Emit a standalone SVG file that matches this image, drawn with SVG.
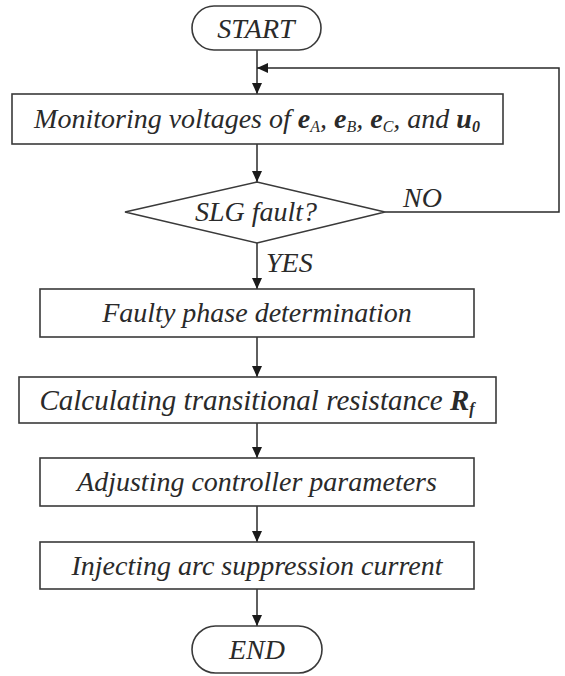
<svg xmlns="http://www.w3.org/2000/svg" width="565" height="676" viewBox="0 0 565 676">
<style>
.n{fill:#fff;stroke:#3a3a3a;stroke-width:1.6}
.t{font-family:'Liberation Serif','DejaVu Serif',serif;font-style:italic;font-size:28px;fill:#2a2a2a;text-anchor:middle}
.l{text-anchor:start}
.g{font-size:29px}
.b{font-weight:bold}
.s{font-size:16px}
.c{fill:none;stroke:#2a2a2a;stroke-width:1.5}
</style>
<defs>
<marker id="a" markerWidth="12" markerHeight="12" refX="11" refY="6" orient="auto" markerUnits="userSpaceOnUse">
<path d="M0,1 L11,6 L0,11 Z" fill="#1a1a1a"/>
</marker>
</defs>
<g id="connectors">
<line class="c" x1="257" y1="50" x2="257" y2="94" marker-end="url(#a)"/>
<polyline class="c" points="385,212 559,212 559,68 257,68" marker-end="url(#a)"/>
<line class="c" x1="257" y1="144" x2="257" y2="182" marker-end="url(#a)"/>
<line class="c" x1="257" y1="243" x2="257" y2="289" marker-end="url(#a)"/>
<line class="c" x1="257" y1="337" x2="257" y2="377" marker-end="url(#a)"/>
<line class="c" x1="257" y1="423" x2="257" y2="458" marker-end="url(#a)"/>
<line class="c" x1="257" y1="506" x2="257" y2="542" marker-end="url(#a)"/>
<line class="c" x1="257" y1="589" x2="257" y2="626" marker-end="url(#a)"/>
<text class="t l" x="403" y="207">NO</text>
<text class="t l" x="266" y="272">YES</text>
</g>
<g id="start">
<rect class="n" x="192" y="6" width="129" height="44" rx="22"/>
<text class="t" x="256" y="38">START</text>
</g>
<g id="monitor">
<rect class="n" x="12" y="94" width="491" height="50"/>
<text class="t" x="257" y="128">Monitoring voltages of <tspan class="b">e</tspan><tspan class="s" dy="4">A</tspan><tspan dy="-4">, </tspan><tspan class="b">e</tspan><tspan class="s" dy="4">B</tspan><tspan dy="-4">, </tspan><tspan class="b">e</tspan><tspan class="s" dy="4">C</tspan><tspan dy="-4">, and </tspan><tspan class="b">u</tspan><tspan class="s b" dy="4">0</tspan></text>
</g>
<g id="slg">
<polygon class="n" points="125,212 257,182 385,212 257,243"/>
<text class="t" x="256" y="221">SLG fault?</text>
</g>
<g id="faulty">
<rect class="n" x="40" y="289" width="434" height="48"/>
<text class="t" x="257" y="322">Faulty phase determination</text>
</g>
<g id="calc">
<rect class="n" x="19" y="377" width="477" height="46"/>
<text class="t g" x="257" y="410">Calculating transitional resistance <tspan class="b">R</tspan><tspan class="s b" dy="4">f</tspan></text>
</g>
<g id="adjust">
<rect class="n" x="40" y="458" width="434" height="48"/>
<text class="t" x="257" y="491">Adjusting controller parameters</text>
</g>
<g id="inject">
<rect class="n" x="40" y="542" width="434" height="47"/>
<text class="t" x="257" y="575">Injecting arc suppression current</text>
</g>
<g id="end">
<rect class="n" x="192" y="626" width="130" height="47" rx="23.5"/>
<text class="t" x="257" y="659">END</text>
</g>
</svg>
